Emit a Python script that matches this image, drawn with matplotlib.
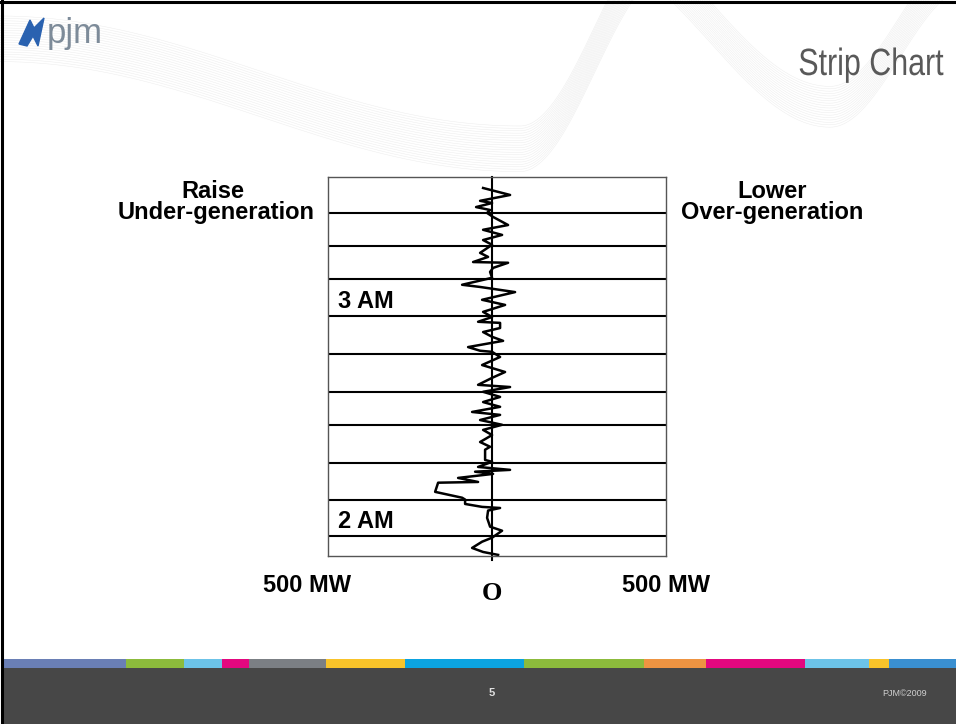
import numpy as np
import matplotlib
matplotlib.use("Agg")
import matplotlib.pyplot as plt
from matplotlib.patches import Rectangle, Polygon, PathPatch
from matplotlib.textpath import TextPath
from matplotlib.font_manager import FontProperties
from matplotlib.transforms import Affine2D

# strip chart trace: deviation (MW, + = over-generation) vs minutes after 2 AM
trace_mw = [-27, 54, -36, 0, -48, -6, -15, 3, 48, -27, 30, -27, 0, -36, -12,
            -57, 48, 3, -6, 0, -90, -36, 69, -30, 39, -27, 0, -42, 24, 24,
            -27, 0, 33, -72, -36, 0, 24, -30, 39, 0, -42, 54, -27, 24, -27,
            24, -60, 24, -36, 30, -27, 0, -36, -6, -21, -21, 0, -42, 54, -51,
            3, -102, -42, -162, -171, -90, -81, -81, -30, 24, -12, -15, -6,
            30, 0, -30, -60, -27, 18]
trace_min = [94.9, 93.0, 91.4, 90.8, 89.7, 88.9, 88.1, 87.0, 84.8, 83.5, 82.1,
             80.7, 79.4, 77.2, 76.1, 74.7, 74.5, 73.1, 72.0, 70.4, 68.5, 67.9,
             66.5, 64.4, 63.0, 61.1, 59.7, 58.4, 58.1, 56.7, 55.6, 54.3, 53.2,
             51.5, 50.5, 50.2, 48.8, 46.6, 44.7, 43.1, 41.2, 40.6, 39.3, 37.9,
             36.5, 35.2, 33.8, 33.0, 31.6, 30.3, 28.9, 27.5, 25.6, 24.3, 23.5,
             20.7, 20.2, 18.8, 18.0, 17.5, 16.9, 15.8, 14.7, 14.5, 12.0, 10.4,
             9.9, 8.7, 7.9, 7.6, 6.9, 4.9, 2.5, 1.4, -0.5, -1.6, -3.3, -4.4,
             -5.2]

# ten-minute chart lines (minutes after 2 AM)
grid_min = [0, 9.8, 19.9, 30.3, 39.3, 49.6, 60, 70.1, 79.1, 88.1]
hour_labels = ["2 AM", "3 AM"]
hour_min = [0, 60]

strip_colors = ["#6a7fb5", "#8cbb3c", "#6cc3e8", "#e3087f", "#7b7f84",
                "#f8c32a", "#0ba3e0", "#8cbb3c", "#ee9442", "#e3087f",
                "#6cc3e8", "#f8c32a", "#3a8fd0"]
strip_edges = [4, 126, 184, 222, 249, 326, 405, 524, 644, 706, 805, 869, 889, 956]

sans = ["Liberation Sans", "DejaVu Sans"]
bold = dict(family=sans, weight="bold", fontsize=17, color="black")

fig = plt.figure(figsize=(9.56, 7.24), dpi=100)
bg = fig.add_axes([0, 0, 1, 1])
bg.set_xlim(0, 956)
bg.set_ylim(724, 0)
bg.axis("off")


def ribbon(x0, x1, xt, ytr, left_half, right_half, left_amp, right_amp, n, gap):
    # cosine-shaped band of faint lines with its lowest point at (xt, ytr)
    xs = np.linspace(x0, x1, 400)
    half = np.where(xs < xt, left_half, right_half)
    amp = np.where(xs < xt, left_amp, right_amp)
    phase = np.clip(np.abs(xs - xt) / half, 0, 1) * np.pi
    base = ytr - amp * (1 - np.cos(phase)) / 2
    for k in range(n):
        bg.plot(xs, base + k * gap - n * gap / 2, color="#ececec", lw=0.35,
                zorder=0)


# faint wave ribbons in the header
ribbon(0, 700, 520, 150, 520, 150, 110, 200, 20, 2.4)
ribbon(560, 956, 830, 108, 240, 140, 170, 140, 18, 2.4)

# slide frame
bg.plot([2, 2], [0, 724], color="black", lw=2.2)
bg.plot([0, 956], [1.5, 1.5], color="black", lw=2.2)

# logo
bg.add_patch(Polygon([[19, 44], [30, 20], [34, 28], [44, 18], [38, 46],
                      [33, 36], [27, 46]], closed=True, color="#2a62b0"))
bg.text(47, 34, "pjm", fontsize=25, color="#7d8b99", va="center", ha="left",
        family=sans)

# narrow title
tp = TextPath((0, 0), "Strip Chart", size=38, prop=FontProperties(family=sans))
w = tp.get_extents().width * 0.8
tr = Affine2D().scale(0.8, -1).translate(942 - w, 75)
bg.add_patch(PathPatch(tr.transform_path(tp), color="#595959", lw=0))

# side labels
bg.text(213, 191, "Raise", ha="center", va="center", **bold)
bg.text(216, 213, "Under-generation", ha="center", va="center", **bold)
bg.text(772, 191, "Lower", ha="center", va="center", **bold)
bg.text(772, 213, "Over-generation", ha="center", va="center", **bold)
bg.text(307, 586, "500 MW", ha="center", va="center", **bold)
bg.text(666, 586, "500 MW", ha="center", va="center", **bold)
bg.text(492, 594, "O", ha="center", va="center", fontsize=19,
        family=["Liberation Serif", "DejaVu Serif"], weight="bold")

# footer
bg.add_patch(Rectangle((4, 668), 952, 56, color="#474747", lw=0))
for c, x0, x1 in zip(strip_colors, strip_edges[:-1], strip_edges[1:]):
    bg.add_patch(Rectangle((x0, 659), x1 - x0, 9, color=c, lw=0))
bg.text(492, 693, "5", ha="center", va="center", fontsize=8, color="#e0e0e0",
        weight="bold", family=sans)
bg.text(905, 693, "PJM\u00a92009", ha="center", va="center", fontsize=6.5,
        color="#d0d0d0", family=sans)

# chart
ax = fig.add_axes([327.5 / 956, 168 / 724, 338.5 / 956, 379 / 724])
ax.set_xlim(-494, 522)
ax.set_ylim(-5.5, 97.9)
ax.set_xticks([])
ax.set_yticks([])
for s in ax.spines.values():
    s.set_color("#555555")
    s.set_linewidth(1.0)
for g in grid_min:
    ax.axhline(g, color="black", lw=1.5)
ax.plot([0, 0], [-6.6, 97.9], color="black", lw=1.5, clip_on=False)
ax.plot(trace_mw, trace_min, color="black", lw=1.8, solid_joinstyle="round")
for lab, m in zip(hour_labels, hour_min):
    ax.annotate(lab, (-494, m), xytext=(11, 3), textcoords="offset pixels",
                ha="left", va="bottom", **bold)

fig.savefig("out.png", dpi=100, facecolor="white")
